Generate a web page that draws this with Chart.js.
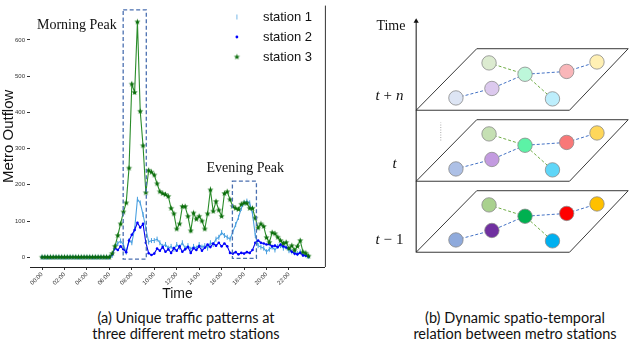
<!DOCTYPE html>
<html>
<head>
<meta charset="utf-8">
<script src="https://cdn.jsdelivr.net/npm/chart.js@4.4.1/dist/chart.umd.min.js"></script>
<style>
body { margin: 0; background: #fff; width: 640px; height: 341px; overflow: hidden; position: relative; font-family: Lato, sans-serif; }
#wrapA { position: absolute; left: 0; top: 0; width: 330px; height: 305px; }
#wrapB { position: absolute; left: 340px; top: 0; width: 300px; height: 300px; }
.cap { position: absolute; font-size: 14.5px; line-height: 16px; text-align: center; color: #111; }
</style>
</head>
<body>
<div id="wrapA"><canvas id="flow"></canvas></div>
<div id="wrapB"><canvas id="graph"></canvas></div>
<div class="cap" style="left:46px;top:310px;width:280px">(a) Unique traffic patterns at<br>three different metro stations</div>
<div class="cap" style="left:380px;top:310px;width:270px">(b) Dynamic spatio-temporal<br>relation between metro stations</div>
<script>
// ---- (a) metro outflow, 15 minute slots from 00:00 ----
var slots = [];
for (var i = 0; i < 96; i++) slots.push(i / 4);

var tickHours = [0, 2, 4, 6, 8, 10, 12, 14, 16, 18, 20, 22];
var tickLabels = ['00:00', '02:00', '04:00', '06:00', '08:00', '10:00', '12:00', '14:00', '16:00', '18:00', '20:00', '22:00'];

var station1 = [0,0,0,0,0,0,0,0,0,0,0,0,0,0,0,0,0,0,0,0,0,0,0,0,0,
    5,30,38,45,35,14,46,40,78,160,150,118,80,42,46,46,50,40,30,35,25,30,22,35,28,40,25,32,22,30,25,35,28,32,25,40,35,50,55,68,60,55,50,70,90,110,135,150,155,150,120,60,32,28,25,15,22,28,20,30,32,25,28,18,15,12,10,15,8,6,2];
var station2 = [0,0,0,0,0,0,0,0,0,0,0,0,0,0,0,0,0,0,0,0,0,0,0,0,0,
    8,25,20,30,22,14,46,62,75,95,82,92,40,11,6,10,24,18,28,15,22,12,25,18,30,15,22,28,12,25,20,30,18,26,35,28,38,32,40,30,38,30,12,10,14,8,12,10,14,12,20,40,46,40,38,35,36,30,32,28,35,30,27,25,15,10,8,12,5,4,2];
var station3 = [0,0,0,0,0,0,0,0,0,0,0,0,0,0,0,0,0,0,0,0,0,0,0,0,0,
    10,30,60,92,125,150,246,478,455,650,403,308,178,240,235,227,203,181,176,173,168,135,120,78,92,140,140,113,73,122,105,113,100,78,120,186,127,154,130,113,176,181,159,140,135,132,146,150,149,135,135,108,81,92,85,54,41,68,65,55,46,38,41,24,32,19,30,46,14,11,3];

var peakBoxes = [
    { x0: 7.23, x1: 9.29, y0: -5, y1: 683 },
    { x0: 16.96, x1: 19.1, y0: -3, y1: 210 }
];
var peakNotes = [
    { text: 'Morning Peak', x: 3.1, y: 640 },
    { text: 'Evening Peak', x: 18.1, y: 245 }
];

function toPoints(vals) {
    return vals.map(function (v, i) { return { x: slots[i], y: v }; });
}

function starIcon(color, r) {
    var c = document.createElement('canvas');
    var s = Math.ceil(r * 2 + 2);
    c.width = c.height = s;
    var g = c.getContext('2d');
    g.fillStyle = color;
    g.beginPath();
    for (var k = 0; k < 10; k++) {
        var rad = k % 2 ? r * 0.42 : r;
        var a = -Math.PI / 2 + k * Math.PI / 5;
        g.lineTo(s / 2 + rad * Math.cos(a), s / 2 + rad * Math.sin(a));
    }
    g.closePath();
    g.fill();
    return c;
}
var star = starIcon('#0b6e0b', 3.2);

var peakPlugin = {
    id: 'peaks',
    afterDatasetsDraw: function (chart) {
        var ctx = chart.ctx, sx = chart.scales.x, sy = chart.scales.y, a = chart.chartArea;
        ctx.save();
        ctx.strokeStyle = '#4a6fb0';
        ctx.lineWidth = 1.3;
        ctx.setLineDash([4, 2.5]);
        peakBoxes.forEach(function (b) {
            var x0 = sx.getPixelForValue(b.x0), x1 = sx.getPixelForValue(b.x1);
            var y0 = sy.getPixelForValue(b.y0), y1 = sy.getPixelForValue(b.y1);
            ctx.strokeRect(x0, y1, x1 - x0, y0 - y1);
        });
        ctx.setLineDash([]);
        ctx.fillStyle = '#111';
        ctx.font = '14px "Liberation Serif", serif';
        ctx.textAlign = 'center';
        ctx.textBaseline = 'middle';
        peakNotes.forEach(function (n) {
            ctx.fillText(n.text, sx.getPixelForValue(n.x), sy.getPixelForValue(n.y));
        });
        // right frame line
        ctx.strokeStyle = '#333';
        ctx.lineWidth = 1;
        ctx.beginPath();
        ctx.moveTo(a.right + 0.5, a.top);
        ctx.lineTo(a.right + 0.5, a.bottom);
        ctx.stroke();
        // legend
        var lx = a.right - 88, ty = [17, 37, 57];
        ctx.font = '13px "Liberation Sans", Arial, sans-serif';
        ctx.textAlign = 'left';
        ctx.fillStyle = '#111';
        chart.data.datasets.forEach(function (ds, i) {
            ctx.fillText(ds.label, lx + 26, ty[i]);
        });
        ctx.strokeStyle = '#8ec4ec';
        ctx.lineWidth = 1.2;
        ctx.beginPath();
        ctx.moveTo(lx, ty[0] - 2.5);
        ctx.lineTo(lx, ty[0] + 2.5);
        ctx.stroke();
        ctx.fillStyle = '#0000ff';
        ctx.beginPath();
        ctx.arc(lx, ty[1], 1.4, 0, Math.PI * 2);
        ctx.fill();
        ctx.drawImage(star, lx - star.width / 2, ty[2] - star.height / 2);
        ctx.restore();
    }
};

new Chart(document.getElementById('flow'), {
    type: 'scatter',
    data: {
        datasets: [{
            label: 'station 1',
            data: toPoints(station1),
            showLine: true,
            borderColor: '#4aa0e0',
            borderWidth: 1.1,
            pointStyle: 'line',
            pointRotation: 90,
            pointRadius: 2.5,
            pointBorderColor: '#4aa0e0',
            pointBorderWidth: 1,
            order: 3
        }, {
            label: 'station 2',
            data: toPoints(station2),
            showLine: true,
            borderColor: '#0000ee',
            borderWidth: 1.1,
            pointRadius: 1.3,
            pointBackgroundColor: '#0000ff',
            pointBorderWidth: 0,
            order: 2
        }, {
            label: 'station 3',
            data: toPoints(station3),
            showLine: true,
            borderColor: '#2a8c2a',
            borderWidth: 1.1,
            pointStyle: star,
            order: 1
        }]
    },
    options: {
        responsive: true,
        maintainAspectRatio: false,
        animation: false,
        layout: { padding: 0 },
        plugins: { legend: { display: false }, tooltip: { enabled: false } },
        scales: {
            x: {
                type: 'linear',
                min: -1.07,
                max: 25.2,
                afterFit: function (s) { s.height = 38; },
                afterBuildTicks: function (s) {
                    s.ticks = tickHours.map(function (h) { return { value: h }; });
                },
                ticks: {
                    includeBounds: false,
                    autoSkip: false,
                    minRotation: 45,
                    maxRotation: 45,
                    padding: 1,
                    color: '#333',
                    font: { size: 6, family: '"Liberation Sans", Arial, sans-serif' },
                    callback: function (v) { return tickLabels[tickHours.indexOf(v)]; }
                },
                grid: { drawOnChartArea: false, tickLength: 3, color: '#333' },
                border: { display: true, color: '#222', width: 1 },
                title: { display: true, text: 'Time', color: '#111', padding: { top: 0, bottom: 2 }, font: { size: 14, family: '"Liberation Sans", Arial, sans-serif' } }
            },
            y: {
                min: -27,
                max: 695,
                afterFit: function (s) { s.width = 30; },
                ticks: {
                    includeBounds: false,
                    stepSize: 100,
                    padding: 2,
                    color: '#333',
                    font: { size: 6, family: '"Liberation Sans", Arial, sans-serif' }
                },
                grid: { drawOnChartArea: false, tickLength: 3, color: '#333' },
                border: { display: false },
                title: { display: true, text: 'Metro Outflow', color: '#111', padding: 0, font: { size: 15, family: '"Liberation Sans", Arial, sans-serif' } }
            }
        }
    },
    plugins: [peakPlugin]
});

// ---- (b) stacked station graphs ----
var planeLevels = [42, 117, 192];          // t-1, t, t+n
var planeLeft = 72;
var planeShape = [[0, 0], [162, 0], [224, 65], [64, 65], [0, 0]];
var nodeX = [77, 80, 42, 115, 144, 159, 191];
var nodeY = [50, 23, 13, 38, 12, 41, 51];
var nodeColors = [
    ['#a9d18e', '#7030a0', '#8faadc', '#00b050', '#00b0f0', '#ff0000', '#ffc000'],
    ['#c5e0b3', '#c39be0', '#adc0e6', '#5cf2a6', '#5fd6f8', '#f87878', '#ffd75a'],
    ['#dcebd0', '#dcc9ee', '#dde5f4', '#bdf7da', '#bdeefc', '#f9b6b9', '#fff0b4']
];
var blueRoute = [2, 1, 3, 5, 6];
var greenRoute = [0, 3, 4];
var levelNames = ['t − 1', 't', 't + n'];

var graphSets = [];
planeLevels.forEach(function (base, p) {
    graphSets.push({
        data: planeShape.map(function (q) { return { x: planeLeft + q[0], y: base + q[1] }; }),
        showLine: true, borderColor: '#222', borderWidth: 0.9, pointRadius: 0, order: 3
    });
    [[blueRoute, '#4472c4'], [greenRoute, '#70ad47']].forEach(function (r) {
        graphSets.push({
            data: r[0].map(function (k) { return { x: planeLeft + nodeX[k], y: base + nodeY[k] }; }),
            showLine: true, borderColor: r[1], borderWidth: 1, borderDash: [3, 2], pointRadius: 0, order: 2
        });
    });
    graphSets.push({
        data: nodeX.map(function (x, k) { return { x: planeLeft + x, y: base + nodeY[k] }; }),
        pointRadius: 7.2, pointBackgroundColor: nodeColors[p], pointBorderColor: '#8a8a8a', pointBorderWidth: 0.8, order: 1
    });
});
// time axis with arrow head
graphSets.push({
    data: [{ x: planeLeft, y: planeLevels[0] }, { x: planeLeft, y: 286 }],
    showLine: true, borderColor: '#111', borderWidth: 1, pointStyle: 'triangle',
    pointRadius: [0, 3], pointBackgroundColor: '#111', pointBorderWidth: 0, order: 3
});
// dotted "..." between t and t+n
graphSets.push({
    data: [{ x: 98, y: 160 }, { x: 98, y: 179 }],
    showLine: true, borderColor: '#aaa', borderWidth: 1, borderDash: [1, 1.5], pointRadius: 0, order: 3
});

var graphText = {
    id: 'graphText',
    afterDatasetsDraw: function (chart) {
        var ctx = chart.ctx, sx = chart.scales.x, sy = chart.scales.y;
        ctx.save();
        ctx.fillStyle = '#111';
        ctx.textBaseline = 'middle';
        ctx.textAlign = 'left';
        ctx.font = '14px "Liberation Serif", serif';
        ctx.fillText('Time', sx.getPixelForValue(30), sy.getPixelForValue(281));
        var labelY = [55, 135, 207];
        levelNames.forEach(function (name, p) {
            var x = sx.getPixelForValue(name === 't' ? 47 : 29);
            var y = sy.getPixelForValue(labelY[p]);
            name.split(' ').forEach(function (part) {
                ctx.font = (/[a-z]/.test(part) ? 'italic ' : '') + '15px "Liberation Serif", serif';
                ctx.fillText(part, x, y);
                x += ctx.measureText(part).width + 4;
            });
        });
        ctx.restore();
    }
};

new Chart(document.getElementById('graph'), {
    type: 'scatter',
    data: { datasets: graphSets },
    options: {
        responsive: true,
        maintainAspectRatio: false,
        animation: false,
        layout: { padding: 0 },
        plugins: { legend: { display: false }, tooltip: { enabled: false } },
        scales: {
            x: { display: false, min: 0, max: 300 },
            y: { display: false, min: 0, max: 300 }
        }
    },
    plugins: [graphText]
});
</script>
</body>
</html>
